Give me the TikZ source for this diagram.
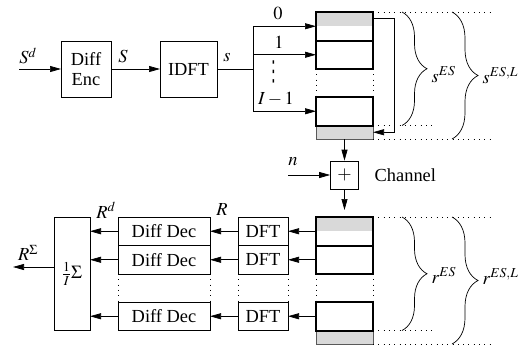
\documentclass[tikz,border=0pt]{standalone}
\usepackage{mathptmx}
\usepackage{fontspec}
\setmainfont{Liberation Serif}
\newfontfamily\dejavu{DejaVu Sans}
\usepackage{tikz}
\usetikzlibrary{arrows.meta,decorations.pathreplacing}

\begin{document}
\begin{tikzpicture}[x=1pt, y=-1pt, line width=0.7pt,
        >={Triangle[length=11pt,width=6pt]},
        every node/.style={font=\fontsize{18.4}{20}\selectfont},
        box/.style={draw, inner sep=0pt, outer sep=0pt, minimum height=28.5pt},
        slot/.style={draw, line width=2pt, inner sep=0pt, outer sep=0pt,
            minimum width=57pt, minimum height=28.5pt, anchor=north west},
        guard/.style={fill=gray!30, inner sep=0pt, outer sep=0pt,
            minimum width=57pt, minimum height=13.5pt, anchor=north west},
        dotline/.style={line width=0.9pt, dash pattern=on 0.9pt off 4.4pt},
        curly/.style={decorate, decoration={brace, amplitude=#1}}]
    \useasboundingbox (0,0) rectangle (520,349);

    % transmitter
    \node[box, minimum width=50pt, minimum height=56pt, align=center] (enc) at (86,69) {Diff\\Enc};
    \node[box, minimum width=57pt, minimum height=56pt] (idft) at (188.5,69) {IDFT};
    \coordinate (sin) at (19,69);
    \coordinate (fan) at (253,69);
    \node (sdlab) at (28,56) {$S^d$};
    \node (Slab) at (123,56) {$S$};
    \node (slab) at (227,58) {$s$};
    \draw[->] (sin) -- (enc);
    \draw[->] (enc) -- (idft);
    \draw (idft) -- (fan);

    % transmit stack
    \node[guard] (g0) at (316,12) {};
    \node[guard, draw=gray!70!black] (gs) at (316,125.5) {};
    \node[slot] (s0) at (316,12) {};
    \node[slot] (s1) at (316,40.5) {};
    \node[slot] (s2) at (316,97) {};
    \draw (fan |- s0) -- (fan |- s2);
    \foreach \k in {0,1,2}
        \draw[->] (fan |- s\k) -- (s\k);
    \node (l0) at (278,13) {$0$};
    \node (l1) at (279,42) {$1$};
    \node[inner sep=0pt] (ldots) at (273.5,72) {\scalebox{0.8}[1.5]{\dejavu ⋮}};
    \node (lI) at (276,99) {$I-1$};
    \draw[->] (g0.east) -- ++(21,0) |- (gs.east);

    \draw[dotline] (s0.north east) -- ++(117,0);
    \draw[dotline] (s2.south east) -- ++(60,0);
    \draw[dotline] (gs.south east) -- ++(117,0);
    \draw[curly=25pt] ([xshift=29pt]s0.north east) -- ([xshift=29pt]s2.south east)
        node (sES) [midway, anchor=west, xshift=26pt, yshift=-6pt] {$s^{ES}$};
    \draw[curly=26pt] ([xshift=79pt]s0.north east) -- ([xshift=79pt]gs.south east)
        node (sESL) [midway, anchor=west, xshift=27pt] {$s^{ES,L}$};

    % channel
    \node[draw, inner sep=0pt, minimum size=28pt] (add) at (344.5,175) {$+$};
    \node[anchor=west] (chan) at (371,175) {Channel};
    \coordinate (nin) at (288,175);
    \node (nlab) at (293,162) {$n$};
    \draw[->] (gs) -- (add);
    \draw[->] (nin) -- (add);

    % receive stack
    \node[guard] (h0) at (316,217) {};
    \node[guard, draw=gray!70!black] (rg) at (316,330.5) {};
    \node[slot] (r0) at (316,217) {};
    \node[slot] (r1) at (316,245.5) {};
    \node[slot] (r2) at (316,302) {};
    \draw[->, shorten >=7pt] (add) -- (h0.north);

    \draw[dotline] (r0.north east) -- ++(117,0);
    \draw[dotline] (r2.south east) -- ++(60,0);
    \draw[dotline] (rg.south east) -- ++(117,0);
    \draw[curly=25pt] ([xshift=29pt]r0.north east) -- ([xshift=29pt]r2.south east)
        node (rES) [midway, anchor=west, xshift=26pt, yshift=-2pt] {$r^{ES}$};
    \draw[curly=26pt] ([xshift=79pt]r0.north east) -- ([xshift=79pt]rg.south east)
        node (rESL) [midway, anchor=west, xshift=27pt, yshift=4pt] {$r^{ES,L}$};

    % receiver
    \node[box, minimum width=50pt, anchor=north west] (d0) at (238,217) {DFT};
    \node[box, minimum width=50pt, anchor=north west] (d1) at (238,245.5) {DFT};
    \node[box, minimum width=50pt, anchor=north west] (d2) at (238,302) {DFT};
    \node[box, minimum width=92pt, anchor=north west] (dd0) at (118,217) {Diff Dec};
    \node[box, minimum width=92pt, anchor=north west] (dd1) at (118,245.5) {Diff Dec};
    \node[box, minimum width=92pt, anchor=north west] (dd2) at (118,302) {Diff Dec};
    \node[box, minimum width=36pt, minimum height=113.5pt, anchor=north west] (sum) at (54,217) {$\frac{1}{I}\Sigma$};
    \foreach \k in {0,1,2} {
        \draw[->] (r\k) -- (d\k);
        \draw[->] (d\k) -- (dd\k);
        \draw[->] (dd\k) -- (sum.east |- dd\k);
    }
    \foreach \col in {dd,d,r,s} {
        \draw[dotline] (\col1.south west) -- (\col2.north west);
        \draw[dotline] (\col1.south east) -- (\col2.north east);
    }
    \coordinate (rout) at (13,267);
    \draw[->] (sum.west |- rout) -- (rout);
    \node (rsig) at (28,253) {$R^{\Sigma}$};
    \node (rd) at (106,210) {$R^d$};
    \node (rl) at (222,210) {$R$};
\end{tikzpicture}
\end{document}
